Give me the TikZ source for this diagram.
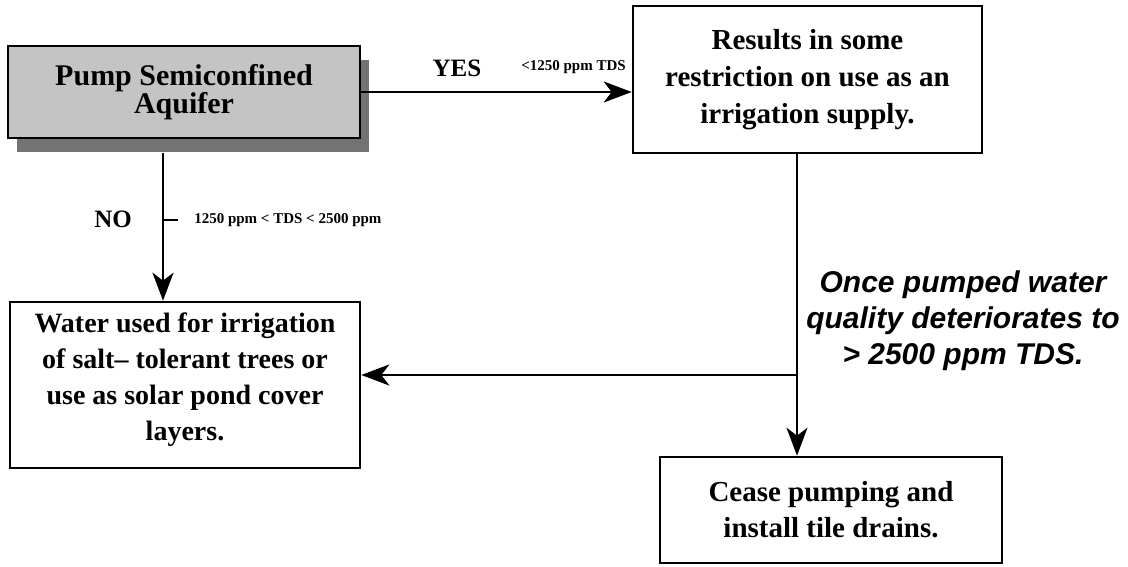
\documentclass[tikz,border=0pt]{standalone}
\usepackage{fontspec}
\setmainfont{Liberation Serif}
\newfontfamily\helvfont{Liberation Sans}
\usepackage{tikz}
\usetikzlibrary{arrows.meta, positioning, calc, shadows}
\definecolor{pumpGrey}{HTML}{C4C4C4}
\definecolor{shadowGrey}{HTML}{737373}

\begin{document}
\begin{tikzpicture}[x=1pt, y=-1pt, line width=2.6pt,
  box/.style={draw, rectangle, align=center, inner sep=0pt,
              font=\fontsize{29}{37}\selectfont\bfseries},
  arr/.style={-{Stealth[length=28pt, width=21pt, inset=8pt]}},
  tdslabel/.style={font=\fontsize{15}{15}\selectfont\bfseries, inner sep=0pt},
  answer/.style={font=\fontsize{25}{25}\selectfont\bfseries, inner sep=0pt}]
\useasboundingbox (0,0) rectangle (1128,567);

% boxes
\node[box, fill=pumpGrey, minimum width=352pt, minimum height=92pt,
      drop shadow={shadow xshift=9pt, shadow yshift=-14pt, fill=shadowGrey, opacity=1},
      font=\fontsize{30}{27}\selectfont\bfseries] (pump) at (184,92)
  {Pump Semiconfined\\Aquifer};
\node[box, minimum width=349pt, minimum height=147pt] (results) at (807.5,79.5)
  {Results in some\\restriction on use as an\\irrigation supply.};
\node[box, minimum width=350pt, minimum height=166pt,
      font=\fontsize{28}{36}\selectfont\bfseries] (water) at (185,385)
  {Water used for irrigation\\of salt-- tolerant trees or\\use as solar pond cover\\layers.\\[-20pt]\mbox{}};
\node[box, minimum width=342pt, minimum height=106pt,
      font=\fontsize{29}{36}\selectfont\bfseries] (cease) at (831,510)
  {Cease pumping and\\install tile drains.};

% labels
\node[answer] (yes) at (457,68) {YES};
\node[tdslabel, anchor=west] (lowtds) at (520,67) {<1250 ppm TDS};
\node[answer] (no) at (113,219) {NO};
\node[tdslabel, anchor=west] (midtds) at (193,220) {1250 ppm < TDS < 2500 ppm};
\node[font=\helvfont\fontsize{30}{36}\selectfont\bfseries\itshape, align=center,
      inner sep=0pt] (once) at (963,321)
  {Once pumped water\\quality deteriorates to\\> 2500 ppm TDS.};

% connectors
\coordinate (split) at (163,220);
\coordinate (fork) at (797,375);
\draw[arr] (pump.east) -- (pump.east -| results.west);
\draw[arr] ($(split |- pump.south)+(0,14)$) -- (split |- water.north);
\draw (split) -- ++(15,0);
\draw[arr] (fork |- results.south) -- (fork |- cease.north);
\draw[arr] (fork) -- (fork -| water.east);
\end{tikzpicture}
\end{document}
